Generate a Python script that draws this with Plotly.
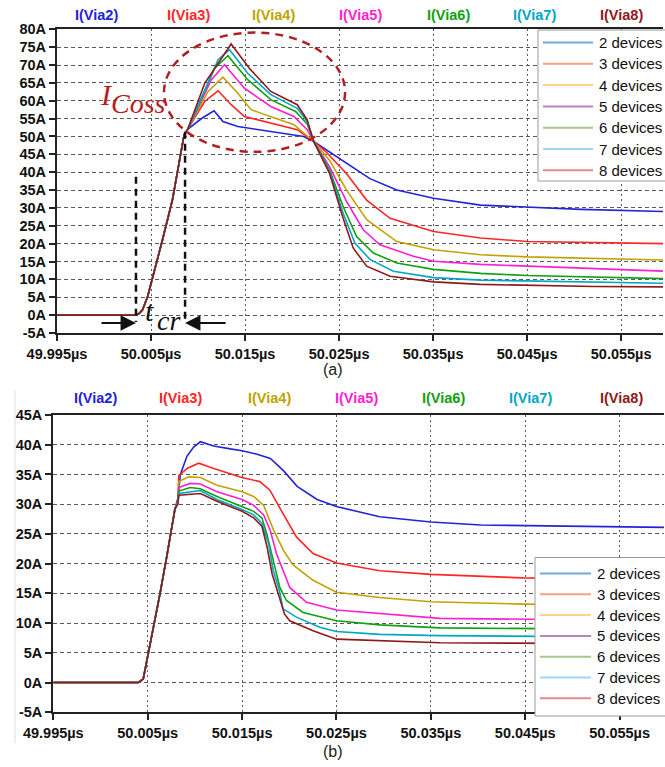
import plotly.graph_objects as go

W, H = 665, 767

# ---------------- labels / colours ----------------
LABELS = ["2 devices", "3 devices", "4 devices", "5 devices", "6 devices", "7 devices", "8 devices"]
HEADERS = ["I(Via2)", "I(Via3)", "I(Via4)", "I(Via5)", "I(Via6)", "I(Via7)", "I(Via8)"]
TRACE_COLORS = ["#2323D8", "#FF2626", "#C2A200", "#FF1ED2", "#10A010", "#00A6C8", "#8E1A1A"]
LEGEND_COLORS = ["#70AADD", "#F6A283", "#FDD38E", "#B684C0", "#A8C68C", "#9ED8F4", "#E48A8E"]

X_TICKS = [49.995, 50.005, 50.015, 50.025, 50.035, 50.045, 50.055]
X_TICK_TEXT = ["49.995µs", "50.005µs", "50.015µs", "50.025µs", "50.035µs", "50.045µs", "50.055µs"]
YA_TICKS = [-5, 0, 5, 10, 15, 20, 25, 30, 35, 40, 45, 50, 55, 60, 65, 70, 75, 80]
YA_TEXT = ["-5A", "0A", "5A", "10A", "15A", "20A", "25A", "30A", "35A", "40A", "45A", "50A",
           "55A", "60A", "65A", "70A", "75A", "80A"]
YB_TICKS = [-5, 0, 5, 10, 15, 20, 25, 30, 35, 40, 45]
YB_TEXT = ["-5A", "0A", "5A", "10A", "15A", "20A", "25A", "30A", "35A", "40A", "45A"]

# ---------------- panel (a) data ----------------
RISE_A_T = [49.995, 50.0033, 50.0037, 50.0041, 50.00464, 50.00517, 50.00622, 50.00728, 50.00817, 50.00852, 50.0089]
RISE_A_I = [0.0, 0.0, 0.4, 1.5, 5.2, 10.4, 21.1, 32.3, 45.4, 50.5, 52.0]

A2_T = [50.0104, 50.0117, 50.01265, 50.01423, 50.01774, 50.02124, 50.0223, 50.0258, 50.02828, 50.03114, 50.03505, 50.04005, 50.045, 50.05074, 50.0597]
A2_I = [55.1, 57.2, 54.2, 52.8, 51.4, 50.0, 48.6, 42.4, 38.2, 35.0, 32.7, 30.8, 30.2, 29.6, 29.0]
A3_T = [50.0107, 50.01213, 50.01353, 50.01493, 50.01774, 50.02055, 50.0223, 50.02365, 50.0258, 50.02793, 50.03042, 50.03505, 50.04005, 50.045, 50.0597]
A3_I = [59.8, 62.8, 58.9, 55.6, 53.7, 51.9, 48.6, 45.6, 39.6, 32.2, 27.1, 23.4, 21.6, 20.6, 20.0]
A4_T = [50.01107, 50.01265, 50.01423, 50.01563, 50.01774, 50.0202, 50.0223, 50.024, 50.0258, 50.02793, 50.03114, 50.03505, 50.04005, 50.045, 50.0597]
A4_I = [62.6, 66.6, 62.1, 57.5, 55.6, 53.3, 48.6, 43.3, 35.0, 26.7, 20.6, 18.3, 16.9, 16.3, 15.4]
A5_T = [50.01142, 50.01282, 50.01493, 50.01774, 50.0202, 50.0216, 50.0223, 50.024, 50.0258, 50.02757, 50.02935, 50.03291, 50.03505, 50.04005, 50.045, 50.0597]
A5_I = [65.9, 70.1, 63.5, 58.4, 55.6, 51.9, 48.6, 41.5, 31.8, 23.9, 19.7, 16.5, 15.1, 14.2, 13.7, 12.3]
A6_T = [50.01177, 50.01318, 50.01528, 50.01774, 50.02037, 50.0216, 50.0223, 50.024, 50.02543, 50.02686, 50.02864, 50.03114, 50.03505, 50.04005, 50.045, 50.0597]
A6_I = [69.1, 72.6, 65.9, 60.3, 57.0, 53.5, 48.6, 40.6, 30.4, 22.0, 17.4, 14.6, 12.8, 11.7, 11.1, 10.2]
A7_T = [50.01213, 50.01335, 50.01528, 50.01774, 50.02055, 50.0216, 50.0223, 50.024, 50.02543, 50.02668, 50.02828, 50.03078, 50.03505, 50.04005, 50.0597]
A7_I = [71.5, 74.3, 67.7, 61.7, 57.9, 54.2, 48.6, 40.1, 28.5, 20.2, 15.6, 12.3, 10.5, 9.8, 8.9]
A8_T = [50.01071, 50.01352, 50.01545, 50.01774, 50.02055, 50.0216, 50.0223, 50.024, 50.02543, 50.0265, 50.02793, 50.03042, 50.03505, 50.04005, 50.05217, 50.0597]
A8_I = [64.9, 75.9, 69.1, 62.6, 58.9, 54.7, 48.6, 39.6, 27.1, 18.8, 13.7, 10.9, 9.3, 8.6, 8.0, 7.9]

# ---------------- panel (b) data ----------------
RISE_B_T = [49.995, 50.0040, 50.00453, 50.00506, 50.00559, 50.0063, 50.00701, 50.00754, 50.00789]
RISE_B_I = [0.0, 0.0, 0.6, 4.8, 9.3, 14.9, 21.1, 26.1, 29.2]

B2_T = [50.0082, 50.00846, 50.00917, 50.00987, 50.01058, 50.01199, 50.01376, 50.015, 50.01659, 50.018, 50.01941, 50.02083, 50.02295, 50.025, 50.02959, 50.035, 50.0403, 50.04913, 50.0597]
B2_I = [31.0, 35.0, 38.1, 39.6, 40.5, 39.8, 39.3, 39.0, 38.4, 37.7, 35.6, 33.0, 30.8, 29.6, 27.9, 27.0, 26.5, 26.3, 26.1]
B3_T = [50.0082, 50.0083, 50.00917, 50.0104, 50.012, 50.01498, 50.01688, 50.01793, 50.01934, 50.02076, 50.02252, 50.025, 50.02959, 50.035, 50.04476, 50.0597]
B3_I = [30.6, 34.8, 36.0, 36.9, 36.0, 34.5, 33.8, 32.4, 28.4, 24.5, 21.7, 20.1, 18.8, 18.2, 17.6, 17.3]
B4_T = [50.0082, 50.0083, 50.00934, 50.01058, 50.01234, 50.01376, 50.015, 50.01623, 50.01729, 50.01835, 50.0194, 50.0204, 50.02252, 50.025, 50.02959, 50.035, 50.04476, 50.0597]
B4_I = [30.5, 33.8, 34.6, 34.5, 33.2, 32.6, 32.1, 31.3, 29.8, 25.6, 22.2, 19.8, 17.2, 15.2, 14.3, 13.6, 13.2, 12.9]
B5_T = [50.0082, 50.0083, 50.0095, 50.01058, 50.01234, 50.015, 50.01623, 50.01729, 50.018, 50.01864, 50.02005, 50.02182, 50.025, 50.02959, 50.03595, 50.0597]
B5_I = [30.4, 32.8, 33.5, 33.4, 32.1, 30.8, 29.8, 28.2, 25.5, 21.7, 16.0, 13.5, 12.2, 11.6, 10.8, 10.4]
B6_T = [50.0082, 50.0083, 50.0095, 50.01058, 50.01234, 50.015, 50.01623, 50.0171, 50.0176, 50.0183, 50.0190, 50.0197, 50.02146, 50.025, 50.02959, 50.03595, 50.0597]
B6_I = [30.3, 32.2, 32.8, 32.6, 31.3, 29.6, 28.8, 27.7, 25.1, 20.6, 16.0, 13.8, 11.8, 10.4, 9.7, 9.2, 8.9]
B7_T = [50.0082, 50.0083, 50.01058, 50.01234, 50.015, 50.01623, 50.0171, 50.0178, 50.0183, 50.01895, 50.01934, 50.02076, 50.02323, 50.025, 50.02959, 50.03595, 50.0597]
B7_I = [30.2, 31.8, 32.3, 30.8, 29.1, 28.2, 26.8, 23.4, 18.9, 15.5, 12.4, 11.0, 9.3, 8.6, 8.1, 7.9, 7.6]
B8_T = [50.0082, 50.0083, 50.01058, 50.01234, 50.015, 50.01623, 50.0171, 50.01765, 50.01818, 50.01888, 50.0195, 50.02005, 50.02252, 50.025, 50.02959, 50.03595, 50.0597]
B8_I = [30.0, 31.5, 31.8, 30.5, 28.8, 27.7, 26.3, 22.8, 18.3, 14.5, 11.5, 10.4, 8.7, 7.3, 7.0, 6.7, 6.5]

A_T = [A2_T, A3_T, A4_T, A5_T, A6_T, A7_T, A8_T]
A_I = [A2_I, A3_I, A4_I, A5_I, A6_I, A7_I, A8_I]
B_T = [B2_T, B3_T, B4_T, B5_T, B6_T, B7_T, B8_T]
B_I = [B2_I, B3_I, B4_I, B5_I, B6_I, B7_I, B8_I]


def px(x):
    return x / W


def py(y):
    return 1 - y / H


fig = go.Figure()

for k in range(7):
    fig.add_trace(go.Scatter(x=RISE_A_T + A_T[k], y=RISE_A_I + A_I[k], mode="lines", name=LABELS[k],
                             line=dict(color=TRACE_COLORS[k], width=1.6),
                             showlegend=False, xaxis="x", yaxis="y", hoverinfo="skip"))
for k in range(7):
    fig.add_trace(go.Scatter(x=RISE_B_T + B_T[k], y=RISE_B_I + B_I[k], mode="lines", name=LABELS[k],
                             line=dict(color=TRACE_COLORS[k], width=1.6),
                             showlegend=False, xaxis="x2", yaxis="y2", hoverinfo="skip"))

BASEFONT = "Liberation Sans, Arial, sans-serif"
XTICKFONT = dict(family=BASEFONT, size=14.5, color="#111111", weight="bold")
YTICKFONT = dict(family=BASEFONT, size=14.5, color="#111111", weight="bold")
GRID = dict(showgrid=True, gridcolor="#5a5a5a", gridwidth=1.4, zeroline=False,
            showline=True, linecolor="#222222", linewidth=2.2, ticks="outside",
            ticklen=6, tickcolor="#222222", tickwidth=1.5, automargin=False)

fig.update_layout(
    width=W, height=H, margin=dict(l=0, r=0, t=0, b=0),
    paper_bgcolor="white", plot_bgcolor="white", showlegend=False,
    xaxis=dict(domain=[px(57), px(663)], range=[49.995, 50.05945], anchor="y",
               tickvals=X_TICKS, ticktext=X_TICK_TEXT, griddash="2px,3px", mirror=True,
               tickfont=XTICKFONT, **GRID),
    yaxis=dict(domain=[py(333), py(29.3)], range=[-5, 80], anchor="x",
               tickvals=YA_TICKS, ticktext=YA_TEXT, griddash="4px,3px", tickfont=YTICKFONT, **GRID),
    xaxis2=dict(domain=[px(53.3), px(664)], range=[49.995, 50.0597], anchor="y2",
                tickvals=X_TICKS, ticktext=X_TICK_TEXT, griddash="2px,3px", mirror=True,
                tickfont=XTICKFONT, **GRID),
    yaxis2=dict(domain=[py(712.3), py(415)], range=[-5, 45], anchor="x2",
                tickvals=YB_TICKS, ticktext=YB_TEXT, griddash="4px,3px", tickfont=YTICKFONT, **GRID),
)

HEAD_A_X = [96, 188, 273, 360, 448, 534, 621]
HEAD_B_X = [95, 180, 269, 356, 443, 530, 621]
annotations = []
shapes = []
for k in range(7):
    annotations.append(dict(x=px(HEAD_A_X[k]), y=py(15), xref="paper", yref="paper", text=HEADERS[k],
                            xanchor="center", yanchor="middle", showarrow=False,
                            font=dict(family=BASEFONT, size=14.5, color=TRACE_COLORS[k], weight="bold")))
    annotations.append(dict(x=px(HEAD_B_X[k]), y=py(398), xref="paper", yref="paper", text=HEADERS[k],
                            xanchor="center", yanchor="middle", showarrow=False,
                            font=dict(family=BASEFONT, size=14.5, color=TRACE_COLORS[k], weight="bold")))

annotations.append(dict(x=px(333), y=py(369), xref="paper", yref="paper", text="(a)", showarrow=False,
                        xanchor="center", yanchor="middle",
                        font=dict(family=BASEFONT, size=16, color="#222222")))
annotations.append(dict(x=px(333), y=py(751), xref="paper", yref="paper", text="(b)", showarrow=False,
                        xanchor="center", yanchor="middle",
                        font=dict(family=BASEFONT, size=16, color="#222222")))

# ---- legend boxes (drawn on top of the curves, as in the reference) ----
LEG_BOXES = [dict(x0=538, x1=667, y0=30, y1=181, lx0=543, lx1=593, tx=597, row0=42.5, dy=21.3),
             dict(x0=535, x1=667, y0=557.5, y1=716, lx0=540, lx1=591, tx=595, row0=573.5, dy=20.8)]
for b in LEG_BOXES:
    shapes.append(dict(type="rect", xref="paper", yref="paper", layer="above",
                       x0=px(b["x0"]), x1=px(b["x1"]), y0=py(b["y1"]), y1=py(b["y0"]),
                       fillcolor="white", line=dict(color="#9a9a9a", width=1)))
    for k in range(7):
        yy = b["row0"] + b["dy"] * k
        shapes.append(dict(type="line", xref="paper", yref="paper", layer="above",
                           x0=px(b["lx0"]), x1=px(b["lx1"]), y0=py(yy), y1=py(yy),
                           line=dict(color=LEGEND_COLORS[k], width=2)))
        annotations.append(dict(x=px(b["tx"]), y=py(yy), xref="paper", yref="paper", text=LABELS[k],
                                xanchor="left", yanchor="middle", showarrow=False,
                                font=dict(family=BASEFONT, size=15, color="#111111")))

ANN_RED = "#B31F1F"
SERIF = "Liberation Serif, DejaVu Serif, serif"
annotations.append(dict(x=px(98), y=py(94), xref="paper", yref="paper", text="<i>I</i>", showarrow=False,
                        xanchor="left", yanchor="middle", font=dict(family=SERIF, size=30, color=ANN_RED)))
annotations.append(dict(x=px(109), y=py(103), xref="paper", yref="paper", text="<i>Coss</i>", showarrow=False,
                        xanchor="left", yanchor="middle", font=dict(family=SERIF, size=28, color=ANN_RED)))
annotations.append(dict(x=px(143), y=py(311), xref="paper", yref="paper", text="<i>t</i>", showarrow=False,
                        xanchor="left", yanchor="middle", font=dict(family=SERIF, size=30, color="#111111")))
annotations.append(dict(x=px(155), y=py(320), xref="paper", yref="paper", text="<i>cr</i>", showarrow=False,
                        xanchor="left", yanchor="middle", font=dict(family=SERIF, size=28, color="#111111")))

# t_cr arrows
annotations.append(dict(x=50.0034, y=-2.2, ax=49.99957, ay=-2.2, xref="x", yref="y", axref="x", ayref="y",
                        text="", showarrow=True, arrowhead=2, arrowsize=1.4, arrowwidth=2.2, arrowcolor="#111111"))
annotations.append(dict(x=50.00862, y=-2.2, ax=50.01309, ay=-2.2, xref="x", yref="y", axref="x", ayref="y",
                        text="", showarrow=True, arrowhead=2, arrowsize=1.4, arrowwidth=2.2, arrowcolor="#111111"))

shapes += [
    dict(type="circle", xref="x", yref="y", x0=50.00638, x1=50.02564, y0=45.7, y1=79.1,
         line=dict(color=ANN_RED, width=2.5, dash="8px,6px")),
    dict(type="line", xref="x", yref="y", x0=50.0034, x1=50.0034, y0=38.7, y1=-1.9,
         line=dict(color="#111111", width=2.5, dash="7px,5px")),
    dict(type="line", xref="x", yref="y", x0=50.00862, x1=50.00862, y0=51.3, y1=-1.9,
         line=dict(color="#111111", width=2.5, dash="7px,5px")),
    dict(type="line", xref="paper", yref="paper", x0=px(15), x1=px(15), y0=py(390), y1=py(743),
         line=dict(color="#dddddd", width=1)),
]

fig.update_layout(annotations=annotations, shapes=shapes)

fig.write_html("out.html", config={"displayModeBar": False},
               post_script="document.body.style.margin='0';document.body.style.overflow='hidden';")
